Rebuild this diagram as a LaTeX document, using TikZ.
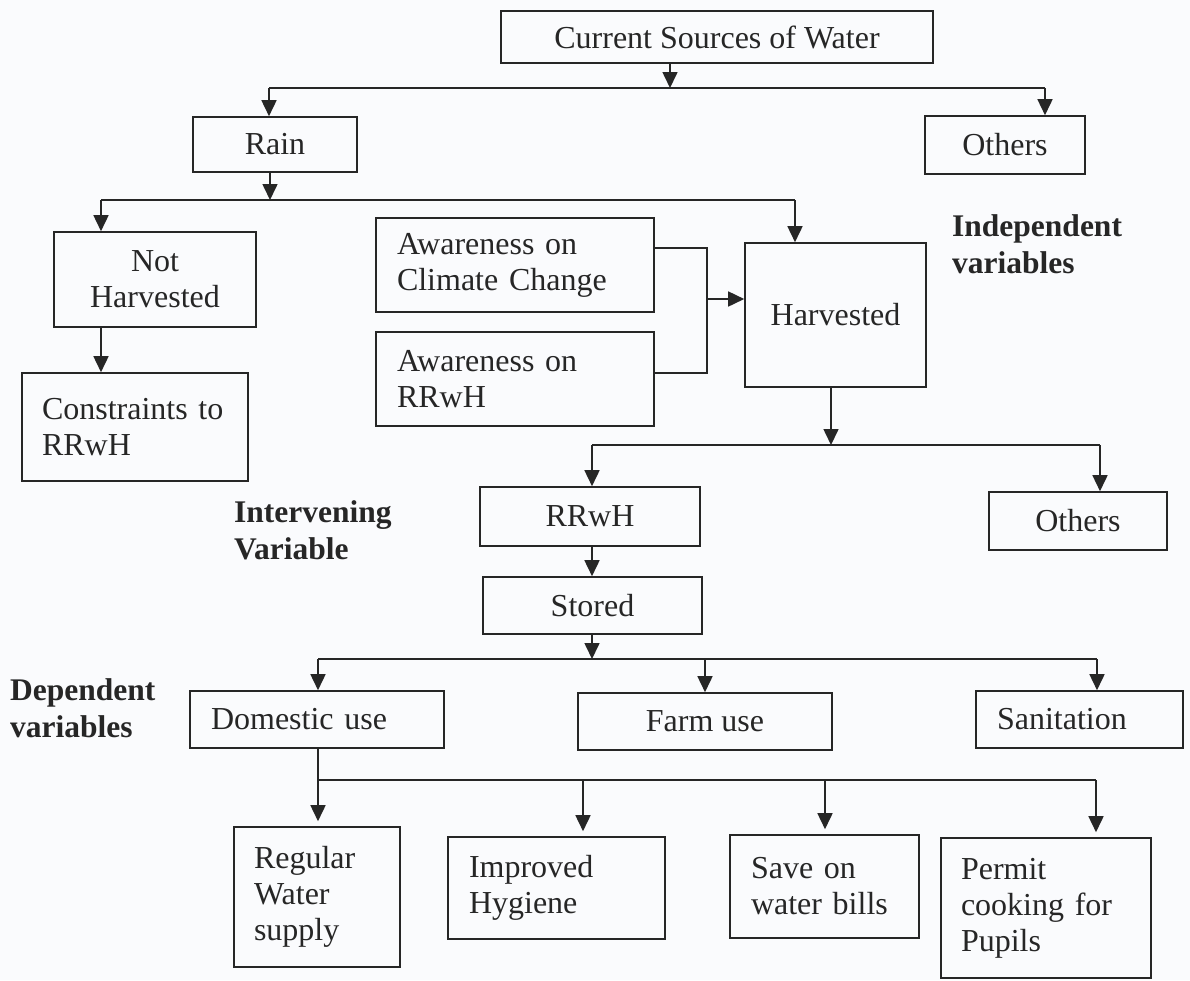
\documentclass[tikz,border=0pt]{standalone}
\usepackage{fontspec}
\setmainfont{Liberation Serif}
\usetikzlibrary{arrows.meta}
\definecolor{ink}{RGB}{38,38,38}
\definecolor{paper}{RGB}{250,251,253}
\tikzset{
  box/.style={draw=ink, line width=1.6pt, inner sep=0pt, text=ink, font=\fontsize{32}{36}\selectfont},
  lbox/.style={box, align=left},
  cbox/.style={box, align=center},
  ln/.style={draw=ink, line width=1.6pt},
  arr/.style={ln, -{Triangle[length=16pt,width=15pt]}},
  arrs/.style={arr, shorten >=5pt},
  varlabel/.style={anchor=west, inner sep=0pt, align=left, text=ink, font=\fontsize{31.5}{37}\selectfont\bfseries}
}
\begin{document}
\begin{tikzpicture}[x=1pt,y=-1pt]
\fill[paper] (0,0) rectangle (1190,980);
\useasboundingbox (0,0) rectangle (1190,980);

% boxes
\node[cbox, minimum width=432, minimum height=52] (top) at (717,37) {Current Sources of Water};
\node[cbox, minimum width=164, minimum height=55] (rain) at (275,144.5) {Rain};
\node[cbox, minimum width=160, minimum height=58] (oth1) at (1005,145) {Others};
\node[cbox, minimum width=202, minimum height=95] (nh) at (155,279.5) {Not\\Harvested};
\node[lbox, minimum width=226, minimum height=108, text width=186] (con) at (135,427) {Constraints to\\RRwH};
\node[lbox, minimum width=278, minimum height=94, text width=236] (acc) at (515,265) {Awareness on\\Climate Change};
\node[lbox, minimum width=278, minimum height=94, text width=236] (arr) at (515,379) {Awareness on\\RRwH};
\node[cbox, minimum width=181, minimum height=144] (harv) at (835.5,315) {Harvested};
\node[cbox, minimum width=220, minimum height=59] (rrwh) at (590,516.5) {RRwH};
\node[cbox, minimum width=178, minimum height=58] (oth2) at (1078,521) {Others};
\node[cbox, minimum width=219, minimum height=57] (stored) at (592.5,605.5) {Stored};
\node[lbox, minimum width=254, minimum height=57, text width=212] (dom) at (317,719.5) {Domestic use};
\node[cbox, minimum width=254, minimum height=57] (farm) at (705,721.5) {Farm use};
\node[lbox, minimum width=207, minimum height=57, text width=165] (san) at (1079.5,719.5) {Sanitation};
\node[lbox, minimum width=166, minimum height=140, text width=126] (reg) at (317,897) {Regular\\Water\\supply};
\node[lbox, minimum width=217, minimum height=102, text width=175] (imp) at (556.5,888) {Improved\\Hygiene};
\node[lbox, minimum width=189, minimum height=103, text width=147] (save) at (824.5,886.5) {Save on\\water bills};
\node[lbox, minimum width=210, minimum height=140, text width=170] (perm) at (1046,908) {Permit\\cooking for\\Pupils};

% variable labels
\node[varlabel] (indep) at (952,244) {Independent\\variables};
\node[varlabel] (interv) at (234,530) {Intervening\\Variable};
\node[varlabel] (dep) at (10,708) {Dependent\\variables};

% junction coordinates
\coordinate (j1) at (670,88);
\coordinate (b1l) at (269,88);
\coordinate (b1r) at (1045,88);
\coordinate (j2) at (270,200);
\coordinate (b2l) at (101,200);
\coordinate (b2r) at (795,200);
\coordinate (m1) at (707,248);
\coordinate (m2) at (707,373);
\coordinate (m3) at (707,299);
\coordinate (j3) at (831,445);
\coordinate (b3l) at (592,445);
\coordinate (b3r) at (1100,445);
\coordinate (j4) at (592,659);
\coordinate (b4l) at (318,659);
\coordinate (b4f) at (705,659);
\coordinate (b4r) at (1097,659);
\coordinate (b5l) at (318,780);
\coordinate (b5i) at (583,780);
\coordinate (b5s) at (825,780);
\coordinate (b5r) at (1096,780);

% level 1
\draw[arr] (top.south -| j1) -- (j1);
\draw[ln] (b1l) -- (b1r);
\draw[arr] (b1l) -- (b1l |- rain.north);
\draw[arr] (b1r) -- (b1r |- oth1.north);

% level 2
\draw[arr] (rain.south -| j2) -- (j2);
\draw[ln] (b2l) -- (b2r);
\draw[arr] (b2l) -- (b2l |- nh.north);
\draw[arr] (b2r) -- (b2r |- harv.north);
\draw[arr] (nh.south -| b2l) -- (b2l |- con.north);

% awareness
\draw[ln] (acc.east |- m1) -- (m1) -- (m2) -- (arr.east |- m2);
\draw[arr] (m3) -- (m3 -| harv.west);

% level 3
\draw[arr] (harv.south -| j3) -- (j3);
\draw[ln] (b3l) -- (b3r);
\draw[arr] (b3l) -- (b3l |- rrwh.north);
\draw[arr] (b3r) -- (b3r |- oth2.north);
\draw[arr] (rrwh.south -| b3l) -- (b3l |- stored.north);

% level 4
\draw[arr] (stored.south -| j4) -- (j4);
\draw[ln] (b4l) -- (b4r);
\draw[arr] (b4l) -- (b4l |- dom.north);
\draw[arr] (b4f) -- (b4f |- farm.north);
\draw[arr] (b4r) -- (b4r |- san.north);

% level 5
\draw[ln] (dom.south -| b5l) -- (b5l) -- (b5r);
\draw[arrs] (b5l) -- (b5l |- reg.north);
\draw[arrs] (b5i) -- (b5i |- imp.north);
\draw[arrs] (b5s) -- (b5s |- save.north);
\draw[arrs] (b5r) -- (b5r |- perm.north);
\end{tikzpicture}
\end{document}
